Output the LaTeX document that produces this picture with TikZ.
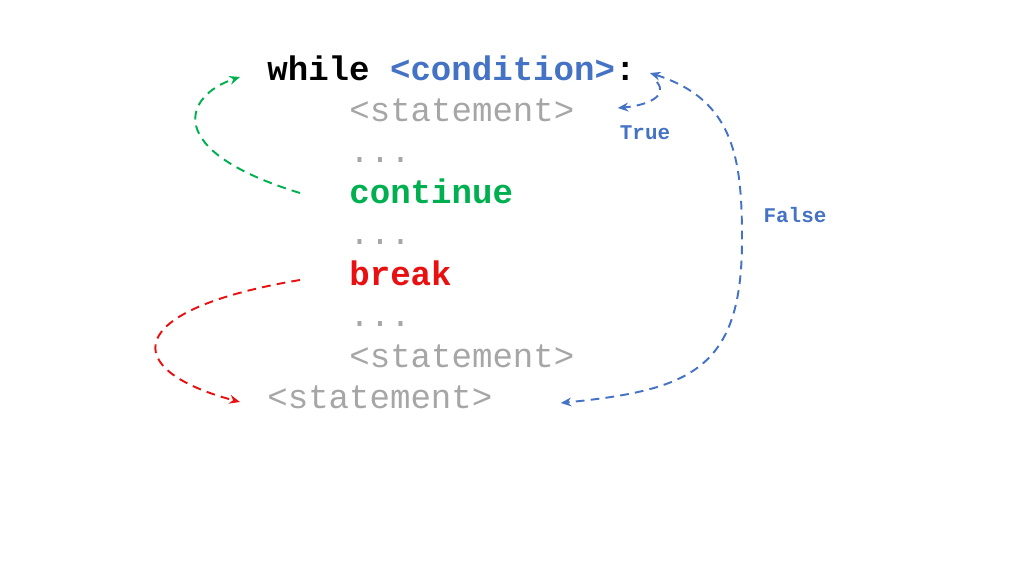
\documentclass[tikz,border=0pt]{standalone}
\usepackage{fontspec}
\setmonofont{Liberation Mono}
\usetikzlibrary{arrows.meta,calc}
\definecolor{condblue}{HTML}{4472C4}
\definecolor{contgreen}{HTML}{00B050}
\definecolor{breakred}{HTML}{E81010}
\definecolor{stmtgray}{HTML}{A6A6A6}

\begin{document}
\begin{tikzpicture}[
  x=0.02cm, y=-0.02cm,
  code/.style={anchor=base west, inner sep=0pt, font=\ttfamily\fontsize{19.4}{23}\selectfont},
  stmt/.style={code, text=stmtgray},
  lbl/.style={inner sep=0pt, text=condblue, font=\ttfamily\bfseries\fontsize{11.9}{14}\selectfont},
  arr/.style={-{Stealth[length=6pt,width=5pt]}, line width=1.1pt, dash pattern=on 5pt off 3.5pt}
]
  \useasboundingbox (0,0) rectangle (1024,576);
  \node[code] (head) at (267,80) {\textbf{while} \textcolor{condblue}{\textbf{<condition>}}\textbf{:}};
  \node[stmt] (st1) at (349,121) {<statement>};
  \node[stmt] (dots1) at (349,162) {...};
  \node[code, text=contgreen, font=\ttfamily\bfseries\fontsize{19.4}{23}\selectfont] (cont) at (349,203) {continue};
  \node[stmt] (dots2) at (349,244) {...};
  \node[code, text=breakred, font=\ttfamily\bfseries\fontsize{19.4}{23}\selectfont] (brk) at (349,285) {break};
  \node[stmt] (dots3) at (349,326) {...};
  \node[stmt] (st2) at (349,367) {<statement>};
  \node[stmt] (st3) at (267,408) {<statement>};
  \node[lbl] (true) at (645,133) {True};
  \node[lbl] (false) at (795,215) {False};
  % continue jumps back, break jumps out
  \draw[arr, contgreen] ($(cont.base west)+(-49,-10)$) .. controls (160,150) and (185,95) .. ($(head.base west)+(-27,-3)$);
  \draw[arr, breakred] ($(brk.base west)+(-49,-5)$) .. controls (120,310) and (120,370) .. ($(st3.base west)+(-27,-6)$);
  % condition branches
  \draw[arr, condblue] ($(head.base east)+(21,2)$) .. controls (668,95) and (650,105) .. ($(st1.base east)+(43,-13)$);
  \draw[arr, condblue, {Stealth[length=6pt,width=5pt]}-{Stealth[length=6pt,width=5pt]}] ($(head.base east)+(14,-7)$) .. controls (735,100) and (742,160) .. (742,240) .. controls (742,370) and (690,390) .. ($(st3.base east)+(68,-5)$);
\end{tikzpicture}
\end{document}
